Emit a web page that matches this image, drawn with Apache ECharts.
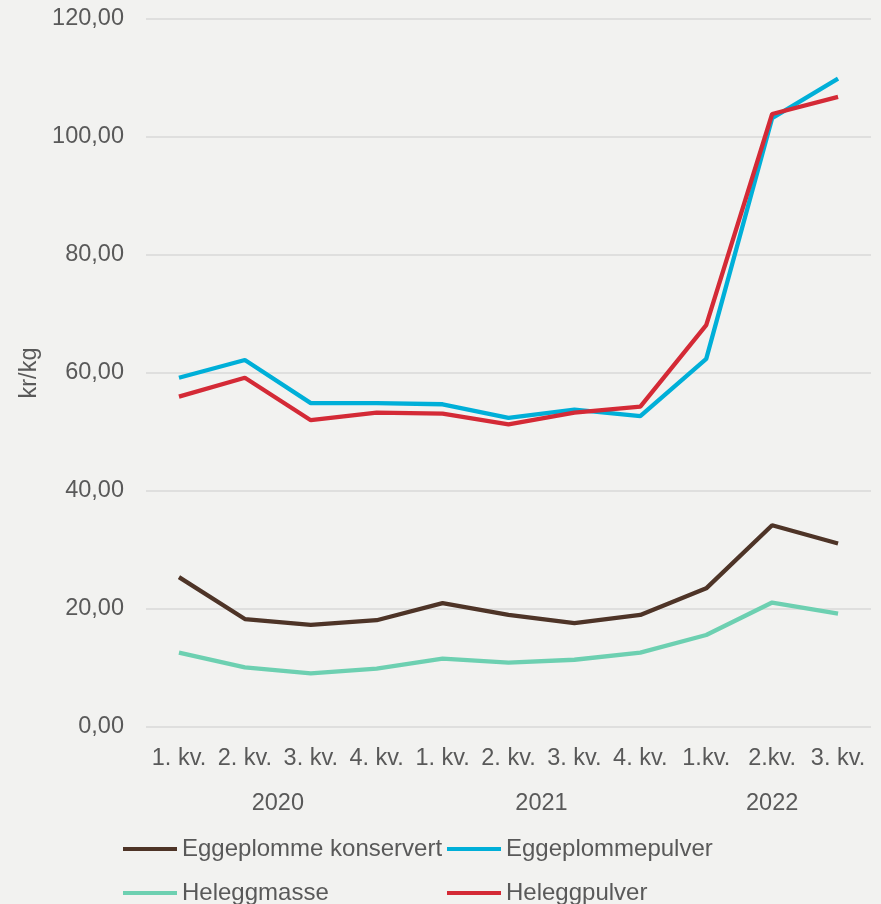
<!DOCTYPE html>
<html>
<head>
<meta charset="utf-8">
<script src="https://cdn.jsdelivr.net/npm/echarts@6/dist/echarts.min.js"></script>
<style>
html,body{margin:0;padding:0;background:#f2f2f0;}
#c{width:881px;height:904px;}
</style>
</head>
<body>
<div id="c"></div>
<script>
const categories = ['1. kv.','2. kv.','3. kv.','4. kv.','1. kv.','2. kv.','3. kv.','4. kv.','1.kv.','2.kv.','3. kv.'];
const yearLabels = {2: '2020', 6: '2021', 9.5: '2022'};
const eggeplommeKonservert = [25.4, 18.3, 17.3, 18.1, 21.0, 19.0, 17.6, 19.0, 23.5, 34.2, 31.1];
const eggeplommepulver = [59.2, 62.2, 54.9, 54.9, 54.7, 52.4, 53.8, 52.7, 62.4, 103.2, 109.9];
const heleggmasse = [12.6, 10.1, 9.1, 9.9, 11.6, 10.9, 11.4, 12.6, 15.6, 21.1, 19.2];
const heleggpulver = [56.0, 59.2, 52.0, 53.3, 53.1, 51.3, 53.3, 54.3, 68.1, 103.9, 106.8];
const yTicks = {min: 0, max: 120, interval: 20};

const txt = '#595959';
const font = 'Liberation Sans, Arial, sans-serif';
const fs = 23.5;

const chart = echarts.init(document.getElementById('c'), null, {renderer: 'canvas'});
const mk = (name, data, color) => ({
  name, type: 'line', data, symbol: 'none', showSymbol: false,
  lineStyle: {width: 4.3, color}, itemStyle: {color}, xAxisIndex: 0, yAxisIndex: 0
});
const legendBase = {
  orient: 'vertical', top: 837, height: 120, itemWidth: 54, itemHeight: 4, itemGap: 20,
  icon: 'rect', padding: 0,
  textStyle: {color: txt, fontSize: 24, fontFamily: font, lineHeight: 22}
};
chart.setOption({
  animation: false,
  backgroundColor: '#f2f2f0',
  textStyle: {fontFamily: font},
  grid: {left: 146, right: 10, top: 19, bottom: 177},
  xAxis: [{
    type: 'category', data: categories, boundaryGap: true,
    axisLine: {show: false}, axisTick: {show: false}, splitLine: {show: false},
    axisLabel: {color: txt, fontSize: fs, fontFamily: font, margin: 20, interval: 0}
  }, {
    type: 'value', min: 0, max: 11, interval: 0.5, position: 'bottom', offset: 45,
    axisLine: {show: false}, axisTick: {show: false}, splitLine: {show: false},
    axisLabel: {color: txt, fontSize: fs, fontFamily: font, margin: 20,
      formatter: v => yearLabels[v] || ''}
  }],
  yAxis: {
    type: 'value', min: yTicks.min, max: yTicks.max, interval: yTicks.interval,
    name: 'kr/kg', nameLocation: 'middle', nameGap: 97, nameRotate: 90,
    nameTextStyle: {color: txt, fontSize: fs, fontFamily: font},
    axisLine: {show: false}, axisTick: {show: false},
    splitLine: {lineStyle: {color: '#d9d9d9', width: 1.5}},
    axisLabel: {color: txt, fontSize: fs, fontFamily: font, margin: 22,
      formatter: v => v.toFixed(2).replace('.', ',')}
  },
  legend: [
    Object.assign({}, legendBase, {left: 123, data: ['Eggeplomme konservert', 'Heleggmasse']}),
    Object.assign({}, legendBase, {left: 447, data: ['Eggeplommepulver', 'Heleggpulver']})
  ],
  series: [
    mk('Eggeplomme konservert', eggeplommeKonservert, '#4e3427'),
    mk('Eggeplommepulver', eggeplommepulver, '#00afd8'),
    mk('Heleggmasse', heleggmasse, '#6dd0b1'),
    mk('Heleggpulver', heleggpulver, '#d42a36')
  ]
});
</script>
</body>
</html>
